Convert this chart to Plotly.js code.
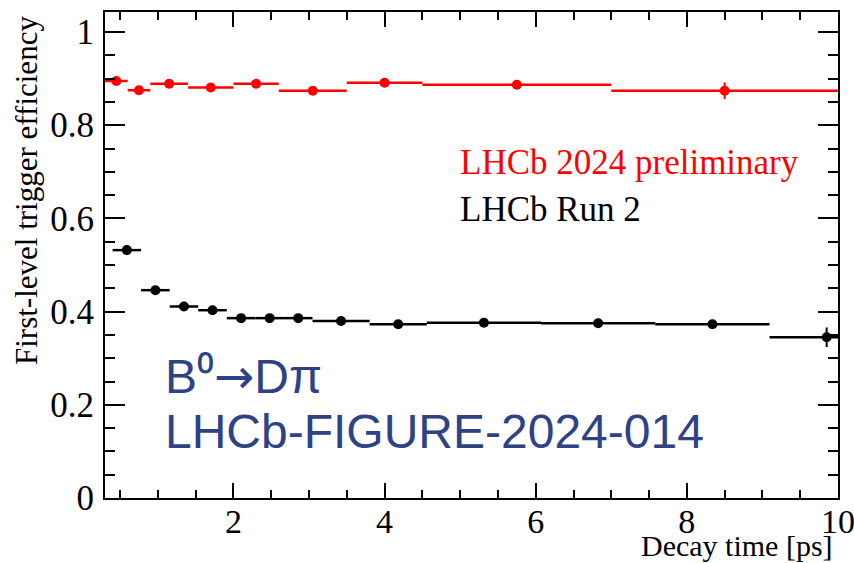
<!DOCTYPE html>
<html>
<head>
<meta charset="utf-8">
<script src="https://cdn.plot.ly/plotly-3.0.1.min.js"></script>
<style>html,body{margin:0;padding:0;background:#fff;}#chart{width:854px;height:563px;}</style>
</head>
<body>
<div id="chart"></div>
<script>
// LHCb 2024 preliminary (red)
const redTime = [0.45, 0.75, 1.15, 1.7, 2.3, 3.05, 4.0, 5.75, 8.5];
const redHalfBin = [0.15, 0.15, 0.25, 0.3, 0.3, 0.45, 0.5, 1.25, 1.5];
const redEff = [0.895, 0.875, 0.889, 0.881, 0.889, 0.874, 0.891, 0.887, 0.874];
const redErr = [0.004, 0.004, 0.004, 0.004, 0.004, 0.005, 0.005, 0.006, 0.018];

// LHCb Run 2 (black)
const blackTime = [0.589, 0.967, 1.345, 1.723, 2.101, 2.479, 2.857, 3.424, 4.180, 5.314, 6.826, 8.338, 9.85];
const blackBinLow = [0.189, 0.189, 0.189, 0.189, 0.189, 0.189, 0.189, 0.378, 0.378, 0.756, 0.756, 0.756, 0.756];
const blackBinHigh = [0.189, 0.189, 0.189, 0.189, 0.189, 0.189, 0.189, 0.378, 0.378, 0.756, 0.756, 0.756, 0.15];
const blackEff = [0.532, 0.446, 0.411, 0.403, 0.386, 0.386, 0.386, 0.380, 0.373, 0.376, 0.375, 0.373, 0.345];
const blackErr = [0.005, 0.005, 0.004, 0.004, 0.004, 0.004, 0.004, 0.004, 0.004, 0.005, 0.005, 0.006, 0.021];

const yTicks = [0, 0.2, 0.4, 0.6, 0.8, 1];
const yTickText = ["0", "0.2", "0.4", "0.6", "0.8", "1"];
const xTicks = [2, 4, 6, 8, 10];
const xTickText = ["2", "4", "6", "8", "10"];

const serif = "Liberation Serif";
const sans = "Liberation Sans";
const blue = "rgb(46,66,132)";

const traces = [
  {
    x: redTime, y: redEff, type: "scatter", mode: "markers",
    marker: {color: "#ff0000", size: 10},
    error_x: {type: "data", array: redHalfBin, symmetric: true, color: "#ff0000", thickness: 2.5, width: 0},
    error_y: {type: "data", array: redErr, symmetric: true, color: "#ff0000", thickness: 2, width: 0},
    showlegend: false, hoverinfo: "x+y"
  },
  {
    x: blackTime, y: blackEff, type: "scatter", mode: "markers",
    marker: {color: "#000000", size: 10},
    error_x: {type: "data", array: blackBinHigh, arrayminus: blackBinLow, symmetric: false, color: "#000000", thickness: 2.5, width: 0},
    error_y: {type: "data", array: blackErr, symmetric: true, color: "#000000", thickness: 2, width: 0},
    showlegend: false, hoverinfo: "x+y"
  }
];

const layout = {
  width: 854, height: 563,
  margin: {l: 105, r: 16, t: 12, b: 65},
  paper_bgcolor: "#ffffff", plot_bgcolor: "#ffffff",
  font: {family: serif, size: 30, color: "#000"},
  showlegend: false,
  xaxis: {
    range: [0.3, 10], showgrid: false, zeroline: false, automargin: false,
    showline: true, linecolor: "#000", linewidth: 2, mirror: "ticks",
    ticks: "inside", ticklen: 15, tickwidth: 2, tickcolor: "#000",
    tickmode: "array", tickvals: xTicks, ticktext: xTickText,
    tickfont: {family: serif, size: 34, color: "#000"},
    ticklabeloverflow: "allow", ticklabelstandoff: -8,
    minor: {dtick: 0.5, tick0: 0, ticks: "inside", ticklen: 8, tickwidth: 2, tickcolor: "#000", showgrid: false}
  },
  yaxis: {
    range: [0, 1.043], showgrid: false, zeroline: false, automargin: false,
    showline: true, linecolor: "#000", linewidth: 2, mirror: "ticks",
    ticks: "inside", ticklen: 20, tickwidth: 2, tickcolor: "#000",
    tickmode: "array", tickvals: yTicks, ticktext: yTickText,
    tickfont: {family: serif, size: 35, color: "#000"},
    ticklabeloverflow: "allow", ticklabelstandoff: 2,
    minor: {dtick: 0.05, tick0: 0, ticks: "inside", ticklen: 10, tickwidth: 2, tickcolor: "#000", showgrid: false}
  },
  annotations: [
    {text: "LHCb 2024 preliminary", xref: "x", yref: "y", x: 4.967, y: 0.721, xanchor: "left", yanchor: "middle",
     showarrow: false, font: {family: serif, size: 35, color: "#ff0000"}},
    {text: "LHCb Run 2", xref: "x", yref: "y", x: 4.967, y: 0.62, xanchor: "left", yanchor: "middle",
     showarrow: false, font: {family: serif, size: 35, color: "#000000"}},
    {text: "B⁰<span style='font-family:DejaVu Sans'>→</span>Dπ", xref: "x", yref: "y", x: 1.065, y: 0.262, xanchor: "left", yanchor: "middle",
     showarrow: false, font: {family: sans, size: 48, color: blue}},
    {text: "LHCb-FIGURE-2024-014", xref: "x", yref: "y", x: 1.065, y: 0.142, xanchor: "left", yanchor: "middle",
     showarrow: false, font: {family: sans, size: 48, color: blue}},
    {text: "Decay time [ps]", xref: "paper", yref: "paper", x: 0.995, y: -0.098, xanchor: "right", yanchor: "middle",
     borderpad: 0, showarrow: false, font: {family: serif, size: 30, color: "#000"}},
    {text: "First-level trigger efficiency", xref: "paper", yref: "paper", x: -0.107, y: 0.996, xanchor: "center", yanchor: "top",
     textangle: -90, showarrow: false, font: {family: serif, size: 31, color: "#000"}}
  ]
};

Plotly.newPlot("chart", traces, layout, {displayModeBar: false, staticPlot: true});
</script>
</body>
</html>
